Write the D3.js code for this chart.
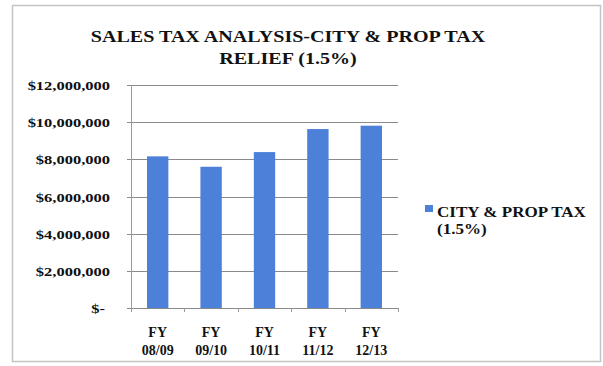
<!DOCTYPE html>
<html>
<head>
<meta charset="utf-8">
<script src="https://cdn.jsdelivr.net/npm/d3@7"></script>
<style>
  body { margin: 0; background: #fff; }
  svg text { font-family: "Liberation Serif", "Times New Roman", serif; font-weight: bold; fill: #111; }
</style>
</head>
<body>
<div id="chart"></div>
<script>
// chart data
let categories = ['FY 08/09', 'FY 09/10', 'FY 10/11', 'FY 11/12', 'FY 12/13'];
let values = [8160000, 7600000, 8390000, 9630000, 9810000];
let yTicks = [0, 2000000, 4000000, 6000000, 8000000, 10000000, 12000000];
let titleLines = ['SALES TAX ANALYSIS-CITY & PROP TAX', 'RELIEF (1.5%)'];
let seriesName = ['CITY & PROP TAX', '(1.5%)'];

let width = 603, height = 366;
let plotLeft = 131, plotRight = 398, plotTop = 85, plotBottom = 308;

let svg = d3.select('#chart').append('svg')
    .attr('width', width)
    .attr('height', height);

// the scanned original looks wider than the fonts we have, so stretch text a bit
let stretch = function (sel, k) {
    sel.each(function () {
        let len = this.getComputedTextLength();
        d3.select(this)
            .attr('textLength', len * k)
            .attr('lengthAdjust', 'spacingAndGlyphs');
    });
};

// outer frame
svg.append('rect')
    .attr('x', 12.5).attr('y', 5.5)
    .attr('width', 588).attr('height', 356)
    .attr('fill', '#fff')
    .attr('stroke', '#c4c4c4')
    .attr('stroke-width', 1.5);

// title
svg.selectAll('text.title')
    .data(titleLines)
    .enter().append('text')
    .attr('class', 'title')
    .attr('x', 288)
    .attr('y', (d, i) => 42 + i * 21.5)
    .attr('text-anchor', 'middle')
    .style('font-size', '17px')
    .text(d => d)
    .call(stretch, 1.18);

let x = d3.scaleBand()
    .domain(categories)
    .range([plotLeft, plotRight])
    .paddingInner(0.6)
    .paddingOuter(0.3);

let y = d3.scaleLinear()
    .domain([0, 12000000])
    .range([plotBottom, plotTop]);

// gridlines
svg.append('g')
    .selectAll('line')
    .data(yTicks)
    .enter().append('line')
    .attr('x1', plotLeft - 4)
    .attr('x2', plotRight)
    .attr('y1', d => Math.round(y(d)) + 0.5)
    .attr('y2', d => Math.round(y(d)) + 0.5)
    .attr('stroke', '#8a8a8a')
    .attr('stroke-width', 1);

// y axis line
svg.append('line')
    .attr('x1', plotLeft + 0.5).attr('x2', plotLeft + 0.5)
    .attr('y1', plotTop).attr('y2', plotBottom + 4)
    .attr('stroke', '#9a9a9a');

// y tick labels
let fmt = d => d === 0 ? '$-' : '$' + d3.format(',')(d);
svg.selectAll('text.ytick')
    .data(yTicks)
    .enter().append('text')
    .attr('class', 'ytick')
    .attr('x', d => d === 0 ? 105 : 110)
    .attr('y', d => y(d) + 5)
    .attr('text-anchor', 'end')
    .style('font-size', '13.5px')
    .text(fmt)
    .call(stretch, 1.22);

// x ticks between categories
let n = categories.length;
svg.append('g')
    .selectAll('line')
    .data(d3.range(n + 1))
    .enter().append('line')
    .attr('x1', i => Math.round(plotLeft + i * (plotRight - plotLeft) / n) + 0.5)
    .attr('x2', i => Math.round(plotLeft + i * (plotRight - plotLeft) / n) + 0.5)
    .attr('y1', plotBottom)
    .attr('y2', plotBottom + 4)
    .attr('stroke', '#9a9a9a');

// bars
svg.selectAll('rect.bar')
    .data(values)
    .enter().append('rect')
    .attr('class', 'bar')
    .attr('x', (d, i) => x(categories[i]))
    .attr('y', d => y(d))
    .attr('width', x.bandwidth())
    .attr('height', d => plotBottom - y(d))
    .attr('fill', '#4d80d9');

// x labels
let xl = svg.selectAll('text.xlab')
    .data(categories)
    .enter().append('text')
    .attr('class', 'xlab')
    .attr('text-anchor', 'middle')
    .style('font-size', '14px');
xl.append('tspan')
    .attr('x', d => x(d) + x.bandwidth() / 2)
    .attr('y', 337)
    .text(d => d.split(' ')[0]);
xl.append('tspan')
    .attr('x', d => x(d) + x.bandwidth() / 2)
    .attr('y', 355)
    .text(d => d.split(' ')[1]);

// legend
svg.append('rect')
    .attr('x', 425).attr('y', 205)
    .attr('width', 8).attr('height', 7)
    .attr('fill', '#4d80d9');
svg.selectAll('text.legend')
    .data(seriesName)
    .enter().append('text')
    .attr('class', 'legend')
    .attr('x', 437)
    .attr('y', (d, i) => 216.5 + i * 17)
    .style('font-size', '15.5px')
    .text(d => d)
    .call(stretch, 1.1);
</script>
</body>
</html>
